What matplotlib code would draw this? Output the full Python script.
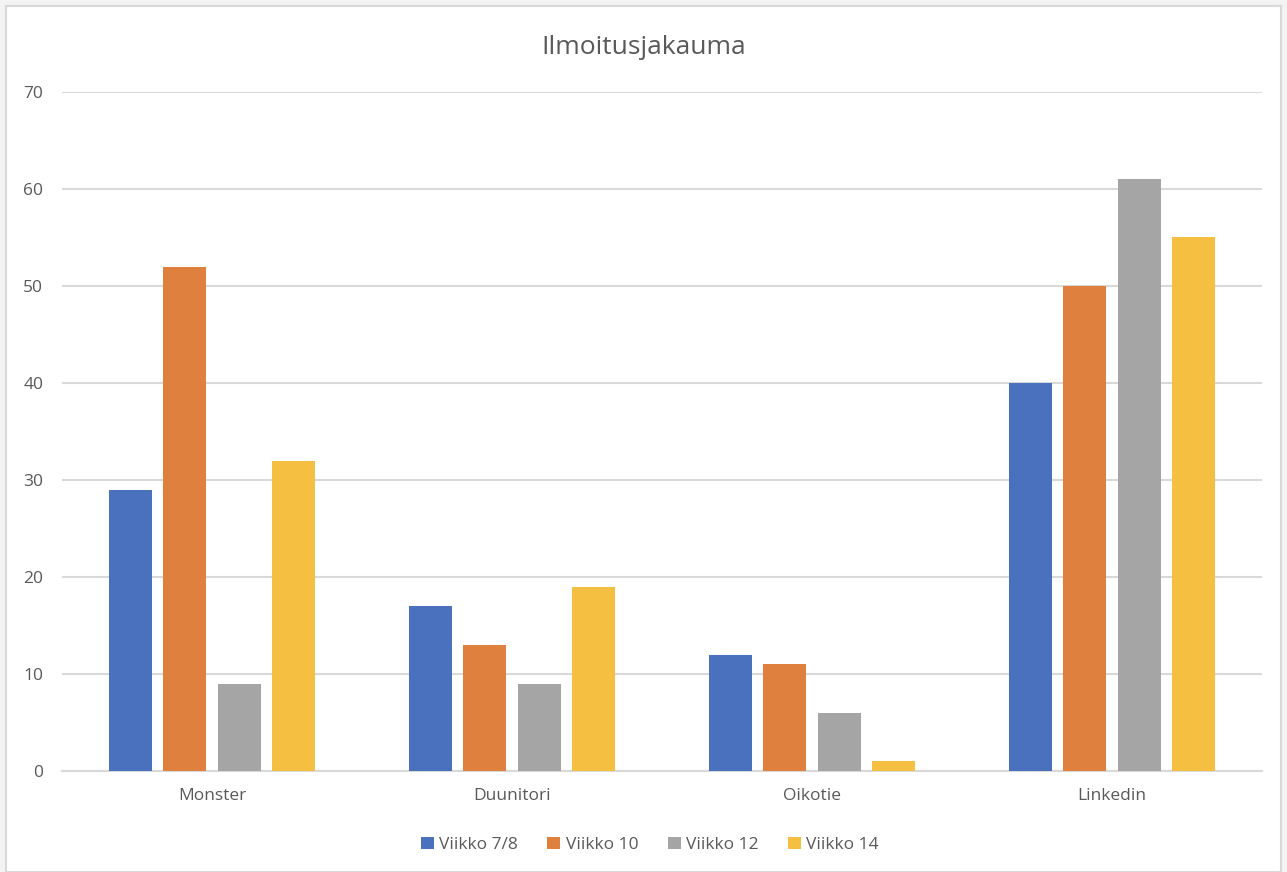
import numpy as np
import matplotlib.pyplot as plt
from matplotlib.patches import Rectangle

plt.rcParams['font.family'] = ['Open Sans', 'DejaVu Sans']

categories = ['Monster', 'Duunitori', 'Oikotie', 'Linkedin']
series_names = ['Viikko 7/8', 'Viikko 10', 'Viikko 12', 'Viikko 14']
viikko_7_8 = [29, 17, 12, 40]
viikko_10 = [52, 13, 11, 50]
viikko_12 = [9, 9, 6, 61]
viikko_14 = [32, 19, 1, 55]
colors = ['#4A71BE', '#E0803F', '#A5A5A5', '#F5BF41']

fig = plt.figure(figsize=(12.87, 8.72), dpi=100)
fig.patch.set_facecolor('#f3f3f3')
fig.patches.append(Rectangle((6 / 1287, 0), 1 - 12 / 1287, 1 - 6 / 872,
                             transform=fig.transFigure, facecolor='white',
                             edgecolor='#d9d9d9', linewidth=1.5, zorder=-10))

ax = fig.add_axes([62 / 1287, 101 / 872, 1200 / 1287, 679 / 872])
ax.set_facecolor('none')

x = np.arange(len(categories))
width = 0.143
step = 0.182
all_series = [viikko_7_8, viikko_10, viikko_12, viikko_14]
for i, (vals, name, c) in enumerate(zip(all_series, series_names, colors)):
    ax.bar(x + (i - 1.5) * step, vals, width, color=c, label=name, zorder=3)

ax.set_xlim(-0.5, 3.5)
ax.set_ylim(0, 70)
ax.set_yticks(range(0, 71, 10))
ax.set_xticks(x)
ax.set_xticklabels(categories)
ax.grid(axis='y', color='#d9d9d9', linewidth=1.5, zorder=0)
for s in ['top', 'right', 'left']:
    ax.spines[s].set_visible(False)
ax.spines['bottom'].set_color('#d9d9d9')
ax.spines['bottom'].set_linewidth(1.5)
ax.tick_params(axis='both', length=0, labelsize=12.5, colors='#595959')
ax.tick_params(axis='y', pad=13.5)
ax.tick_params(axis='x', pad=12)

fig.text(0.5, 0.946, 'Ilmoitusjakauma', ha='center', va='center',
         fontsize=19, color='#595959')

leg = fig.legend(loc='center', bbox_to_anchor=(0.505, 0.031), ncol=4,
                 frameon=False, fontsize=12.5, handlelength=0.75, handleheight=0.75,
                 handletextpad=0.3, columnspacing=1.7)
for t in leg.get_texts():
    t.set_color('#595959')

fig.savefig('out.png', dpi=100)
